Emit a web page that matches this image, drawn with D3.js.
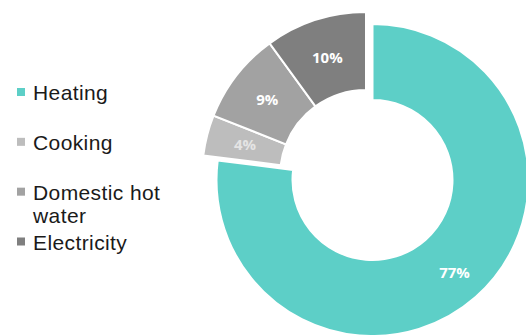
<!DOCTYPE html>
<html>
<head>
<meta charset="utf-8">
<script src="https://cdn.jsdelivr.net/npm/d3@7"></script>
<style>
html,body{margin:0;padding:0;background:#fff;}
svg{display:block;}
</style>
</head>
<body>
<svg id="chart" width="526" height="335"></svg>
<script>
const categories = ["Heating", "Cooking", "Domestic hot water", "Electricity"];
const values = [77, 4, 9, 10];
const labels = ["77%", "4%", "9%", "10%"];
const legendLines = [["Heating"], ["Cooking"], ["Domestic hot", "water"], ["Electricity"]];
const colors = ["#5dcfc7", "#bdbdbd", "#a2a2a2", "#7f7f7f"];

const svg = d3.select("#chart");
const cx = 372.5, cy = 180;
const rOuter = 156, rInner = 80;        // main (Heating) ring
const gOuter = 164, gInner = 86;        // pulled-out grey group ring
const gdx = -6.5, gdy = -4;             // grey group offset

const pie = d3.pie().sort(null).value(d => d)(values);
const arcMain = d3.arc().innerRadius(rInner).outerRadius(rOuter);
const arcGrey = d3.arc().innerRadius(gInner).outerRadius(gOuter);
const color = d3.scaleOrdinal().domain(categories).range(colors);

const root = svg.append("g").attr("transform", `translate(${cx},${cy})`);
const slices = root.selectAll("g.slice").data(pie).enter().append("g")
  .attr("class", "slice")
  .attr("transform", (d, i) => i === 0 ? null : `translate(${gdx},${gdy})`);

slices.append("path")
  .attr("d", (d, i) => i === 0 ? arcMain(d) : arcGrey(d))
  .attr("fill", (d, i) => color(categories[i]))
  .attr("stroke", "#fff")
  .attr("stroke-width", 2);

slices.append("text")
  .attr("transform", (d, i) => {
    const a = (d.startAngle + d.endAngle) / 2;
    const r = i === 0 ? 124 : 125;
    return `translate(${Math.sin(a) * r},${-Math.cos(a) * r})`;
  })
  .attr("text-anchor", "middle")
  .attr("dy", "0.36em")
  .attr("fill", (d, i) => i === 1 ? "#e4e4e4" : "#fff")
  .style("font-family", "'Open Sans', sans-serif")
  .style("font-weight", "700")
  .style("font-size", "15px")
  .text((d, i) => labels[i]);

// Legend
const legend = svg.append("g");
const ly = d3.scaleLinear().domain([0, categories.length - 1]).range([92.5, 242]);
categories.forEach((c, i) => {
  const y = ly(i);
  legend.append("rect")
    .attr("x", 17).attr("y", y - 4.5)
    .attr("width", 8).attr("height", 8)
    .attr("fill", color(c));
  const t = legend.append("text")
    .attr("x", 33).attr("y", y)
    .attr("fill", "#1a1a1a")
    .style("font-family", "'Liberation Sans', Arial, sans-serif")
    .style("font-size", "21px")
    .style("letter-spacing", "0.4px");
  legendLines[i].forEach((line, k) => {
    t.append("tspan").attr("x", 33).attr("dy", k === 0 ? "0.36em" : "1.1em").text(line);
  });
});
</script>
</body>
</html>
